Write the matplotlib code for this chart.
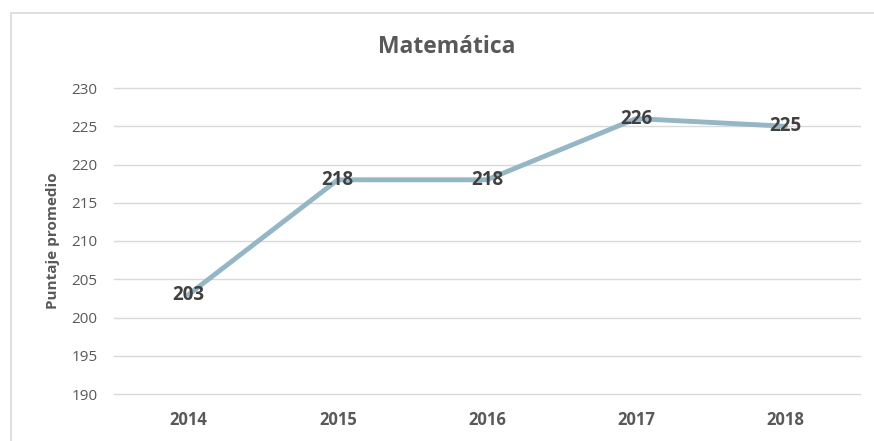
import matplotlib.pyplot as plt
from matplotlib.patches import Rectangle

# === DATA ===
years = ["2014", "2015", "2016", "2017", "2018"]
scores = [203, 218, 218, 226, 225]
y_ticks = [190, 195, 200, 205, 210, 215, 220, 225, 230]

plt.rcParams['font.family'] = ['Open Sans', 'DejaVu Sans']

# === FIGURE ===
fig = plt.figure(figsize=(8.74, 4.41), dpi=100)
ax = fig.add_axes([114 / 874, 1 - 394 / 441, 746 / 874, 306 / 441])

# chart border
fig.patches.append(Rectangle((11 / 874, -0.05), 1.0, 1 - 13 / 441 + 0.05,
                             transform=fig.transFigure, fill=False,
                             edgecolor="#d9d9d9", linewidth=1.2))

x = range(len(years))
ax.plot(x, scores, color="#93b7c6", linewidth=3.5, solid_capstyle="round", zorder=2)
for xi, v in zip(x, scores):
    ax.text(xi, v, str(v), ha="center", va="center", fontsize=13.5,
            fontweight="bold", color="#404040", zorder=3)

ax.set_xlim(-0.5, len(years) - 0.5)
ax.set_ylim(190, 230)
ax.set_yticks(y_ticks)
ax.set_xticks(list(x))
ax.set_xticklabels(years, fontweight="bold")
ax.tick_params(axis="both", length=0, colors="#595959")
ax.tick_params(axis="y", pad=12, labelsize=11)
ax.tick_params(axis="x", pad=12, labelsize=12)
ax.grid(axis="y", color="#d9d9d9", linewidth=1)
for gl in ax.get_ygridlines():
    gl.set_clip_on(False)
ax.set_axisbelow(True)
for s in ax.spines.values():
    s.set_visible(False)

ax.set_ylabel("Puntaje promedio", fontsize=11, fontweight="bold", color="#595959", labelpad=8)
fig.text(447 / 874, 1 - 47 / 441, "Matemática", ha="center", va="center",
         fontsize=16.5, color="#595959", fontweight="bold")

fig.savefig("out.png", dpi=100)
